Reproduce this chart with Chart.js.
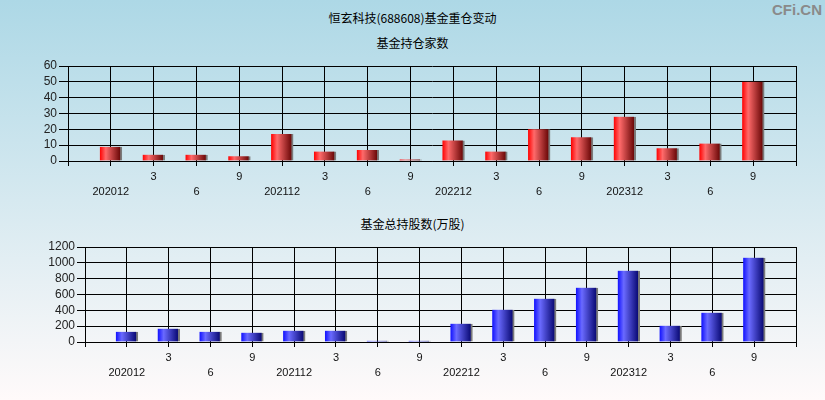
<!DOCTYPE html>
<html>
<head>
<meta charset="utf-8">
<script src="https://cdn.jsdelivr.net/npm/chart.js@4.4.1/dist/chart.umd.min.js"></script>
<style>
  html, body { margin: 0; padding: 0; }
  body {
    width: 825px; height: 400px; position: relative; overflow: hidden;
    background: linear-gradient(to bottom, #add8e6 0%, #fffafa 100%);
    font-family: "Noto Sans CJK SC", sans-serif;
  }
  .txt { position: absolute; left: 0; width: 825px; text-align: center; font-size: 12px; color: #000; line-height: 14px; }
  #mark { position: absolute; right: 3px; top: 1px; font: bold 15px "Liberation Sans Narrow", "Liberation Sans", sans-serif; color: #8a8a8a; }
  .box { position: absolute; left: 0; width: 825px; }
</style>
</head>
<body>
<div class="txt" style="top:11px">恒玄科技(688608)基金重仓变动</div>
<div id="mark">CFi.CN</div>
<div class="txt" style="top:36px">基金持仓家数</div>
<div class="box" style="top:50px;height:150px"><canvas id="countChart"></canvas></div>
<div class="txt" style="top:217px">基金总持股数(万股)</div>
<div class="box" style="top:230px;height:170px"><canvas id="sharesChart"></canvas></div>

<script>
const periods = ['202012', '3', '6', '9', '202112', '3', '6', '9', '202212', '3', '6', '9', '202312', '3', '6', '9'];
const fundCounts = [9, 4, 4, 3, 17, 6, 7, 1, 13, 6, 20, 15, 28, 8, 11, 50];
const fundShares = [130, 168, 130, 118, 143, 143, 15, 15, 232, 408, 547, 686, 901, 206, 371, 1065];
const countTicks = [0, 10, 20, 30, 40, 50, 60];
const shareTicks = [0, 200, 400, 600, 800, 1000, 1200];

function barGradient(colors) {
    return function(ctx) {
        const chart = ctx.chart;
        if (!ctx.parsed || !chart.scales.x) return colors[0];
        const x = chart.scales.x.getPixelForValue(ctx.parsed.x);
        if (!isFinite(x)) return colors[0];
        const g = chart.ctx.createLinearGradient(x - 11, 0, x + 9, 0);
        g.addColorStop(0, colors[0]);
        g.addColorStop(0.3, colors[1]);
        g.addColorStop(1, colors[2]);
        return g;
    };
}

function makeChart(id, values, yTicks, colors, opts) {
    const points = values.map((v, i) => ({ x: i + 1, y: v }));
    return new Chart(document.getElementById(id), {
        type: 'bar',
        data: {
            datasets: [{
                data: points,
                backgroundColor: barGradient(colors),
                borderColor: '#7a7a7a',
                borderWidth: { top: 0, left: 0, bottom: 0, right: 2 },
                borderSkipped: false,
                barThickness: 22
            }]
        },
        options: {
            responsive: true,
            maintainAspectRatio: false,
            animation: false,
            layout: { padding: { top: opts.top, right: 29, bottom: opts.bottom, left: 0 } },
            plugins: { legend: { display: false }, tooltip: { enabled: false }, title: { display: false } },
            scales: {
                x: {
                    type: 'linear',
                    offset: false,
                    min: 0,
                    max: periods.length + 1,
                    afterFit: s => { s.height = opts.xHeight; },
                    afterBuildTicks: s => { s.ticks = Array.from({ length: periods.length + 2 }, (_, i) => ({ value: i })); },
                    grid: { offset: false, color: '#000', lineWidth: 1, tickLength: 5, tickColor: '#000' },
                    border: { color: '#000' },
                    ticks: {
                        autoSkip: false,
                        maxRotation: 0,
                        padding: opts.xPad,
                        color: '#111',
                        font: { family: '"Liberation Sans", Arial, sans-serif', size: 11, lineHeight: '15px' },
                        callback: v => {
                            const i = v - 1;
                            if (i < 0 || i >= periods.length) return '';
                            return i % 2 === 0 ? ['', periods[i]] : periods[i];
                        }
                    }
                },
                y: {
                    min: yTicks[0],
                    max: yTicks[yTicks.length - 1],
                    afterFit: s => { s.width = opts.left; },
                    afterBuildTicks: s => { s.ticks = yTicks.map(v => ({ value: v })); },
                    grid: { color: '#000', lineWidth: 1, tickLength: opts.yTick, tickColor: '#000' },
                    border: { color: '#000' },
                    ticks: {
                        autoSkip: false,
                        padding: 2,
                        color: '#222',
                        font: { family: '"Liberation Sans", Arial, sans-serif', size: 12 },
                        callback: v => String(v)
                    }
                }
            }
        }
    });
}

makeChart('countChart', fundCounts, countTicks, ['#ff0000', '#ff6a6a', '#6e0a0a'],
    { top: 16, bottom: 0, xHeight: 39, left: 68, yTick: 9, xPad: 3 });
makeChart('sharesChart', fundShares, shareTicks, ['#1010ff', '#6a6aff', '#0c0c78'],
    { top: 17, bottom: 18, xHeight: 40, left: 85, yTick: 8, xPad: 3 });
</script>
</body>
</html>
